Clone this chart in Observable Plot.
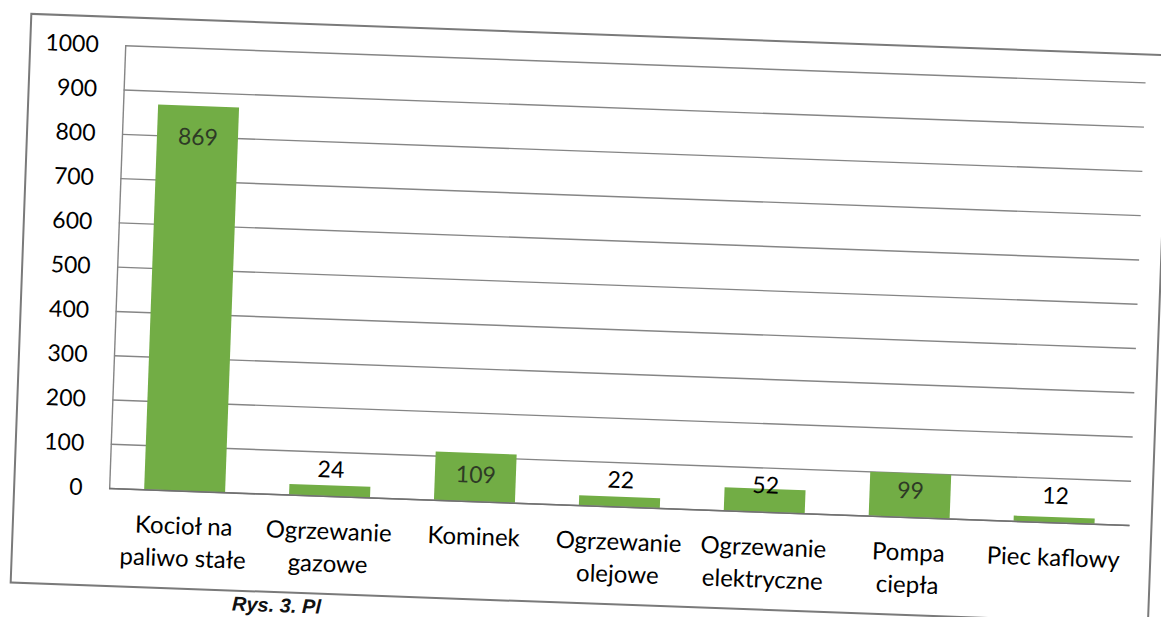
<!DOCTYPE html>
<html>
<head>
<meta charset="utf-8">
<script src="https://cdn.jsdelivr.net/npm/d3@7"></script>
<script src="https://cdn.jsdelivr.net/npm/@observablehq/plot@0.6"></script>
<style>
  html, body { margin: 0; padding: 0; background: #ffffff; overflow: hidden; }
  #page { position: relative; width: 1161px; height: 617px; transform: rotate(2.08deg); transform-origin: 580.5px 308.5px; }
  #frame { position: absolute; left: 20px; top: 33px; width: 1136px; height: 567px; border: 2px solid #7a7a7a; }
  #chart { position: absolute; left: 0; top: 0; }
  #caption { position: absolute; left: 243px; top: 606px; font-family: "Liberation Sans", Arial, sans-serif; font-weight: bold; font-style: italic; font-size: 20px; line-height: 1; color: #111; white-space: nowrap; }
</style>
</head>
<body>
<div id="page">
  <div id="frame"></div>
  <div id="chart"></div>
  <div id="caption">Rys. 3. Pl</div>
</div>
<script>
const categories = ["Kocioł na paliwo stałe", "Ogrzewanie gazowe", "Kominek", "Ogrzewanie olejowe", "Ogrzewanie elektryczne", "Pompa ciepła", "Piec kaflowy"];
const categoryLabels = ["Kocioł na\npaliwo stałe", "Ogrzewanie\ngazowe", "Kominek", "Ogrzewanie\nolejowe", "Ogrzewanie\nelektryczne", "Pompa\nciepła", "Piec kaflowy"];
const values = [869, 24, 109, 22, 52, 99, 12];
const yTicks = [0, 100, 200, 300, 400, 500, 600, 700, 800, 900, 1000];

const data = categories.map((c, i) => ({category: c, value: values[i]}));
const labelOf = new Map(categories.map((c, i) => [c, categoryLabels[i]]));
const tall = data.filter(d => d.value > 500);
const short = data.filter(d => d.value <= 500);

const font = "Lato, Calibri, Carlito, 'Open Sans', sans-serif";

const chart = Plot.plot({
  width: 1161,
  height: 617,
  marginLeft: 116,
  marginRight: 24,
  marginTop: 62,
  marginBottom: 112,
  style: {fontFamily: font, fontSize: "23px", color: "#000", background: "transparent", overflow: "visible"},
  x: {domain: categories, paddingInner: 0.44, paddingOuter: 0.22},
  y: {domain: [0, 1000]},
  marks: [
    Plot.gridY(yTicks, {stroke: "#858585", strokeOpacity: 1, strokeWidth: 1.4}),
    Plot.frame({anchor: "left", stroke: "#858585", strokeWidth: 1.4}),
    Plot.barY(data, {x: "category", y: "value", fill: "#72ad45"}),
    Plot.ruleY([0], {stroke: "#707070", strokeWidth: 1.6}),
    Plot.axisY({ticks: yTicks, tickSize: 0, tickPadding: 27, fontSize: 23, label: null, fill: "#000", tickFormat: d => String(d)}),
    Plot.axisX({tickSize: 0, tickPadding: 20, fontSize: 24, lineHeight: 1.35, label: null, tickFormat: d => labelOf.get(d), fill: "#000"}),
    Plot.text(tall, {x: "category", y: "value", dy: 31, text: d => String(d.value), fontSize: 23, fill: "#2e3a26"}),
    Plot.text(short, {x: "category", frameAnchor: "bottom", dy: -19, text: d => String(d.value), fontSize: 23, fill: d => d.value > 90 ? "#2e3a26" : "#000"})
  ]
});
document.getElementById("chart").appendChild(chart);
</script>
</body>
</html>
